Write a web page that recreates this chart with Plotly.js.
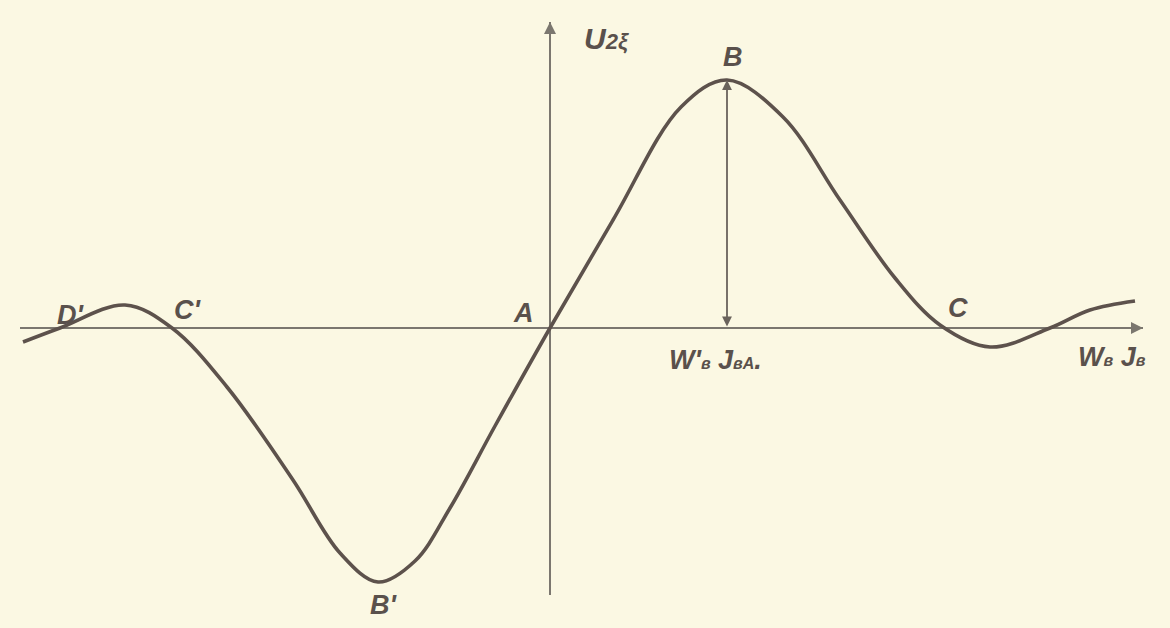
<!DOCTYPE html>
<html>
<head>
<meta charset="utf-8">
<script src="https://cdn.plot.ly/plotly-3.0.1.min.js"></script>
<style>
  html, body { margin: 0; padding: 0; background: #fbf8e3; }
  #chart { width: 1170px; height: 628px; }
</style>
</head>
<body>
<div id="chart"></div>
<script>
// Characteristic curve U2 vs control ampere-turns (W_B * J_B)
const curveX = [-5.27, -4.90, -4.25, -3.78, -3.23, -2.57, -2.10, -1.72, -1.35, -1.00,
                -0.55, 0.00, 0.63, 1.31, 1.77, 2.33, 2.90, 3.45, 3.90, 4.40, 5.00, 5.40, 5.85];
const curveY = [-0.14, 0.00, 0.23, 0.00, -0.59, -1.52, -2.25, -2.54, -2.33, -1.80,
                -0.98, 0.00, 1.08, 2.21, 2.48, 2.11, 1.28, 0.50, 0.03, -0.19, 0.00, 0.18, 0.27];

// Axis extents
const hAxisX = [-5.30, 5.93];
const vAxisY = [-2.67, 3.06];

// Peak B and its ampere-turns value on the axis
const peakX = 1.77;
const peakY = 2.48;

// Point labels
const labelText = ["D'", "C'", "A", "B", "B'", "C"];
const labelX = [-4.80, -3.63, -0.27, 1.83, -1.67, 4.08];
const labelY = [0.13, 0.18, 0.15, 2.71, -2.77, 0.20];

// Axis titles
const axisText = [
  "U<span style='font-size:22px'>2ξ</span>",
  "W'<span style='font-size:16px'>в</span> J<span style='font-size:16px'>вA</span>.",
  "W<span style='font-size:16px'>в</span> J<span style='font-size:16px'>в</span>"
];
const axisTextX = [0.56, 1.65, 5.62];
const axisTextY = [2.90, -0.32, -0.29];

const ink = '#5d524c';
const axisInk = '#7b776f';
const font = { family: 'Liberation Sans, Arial, sans-serif', size: 27, color: '#5a514c' };

const annotations = [];
labelText.forEach((t, i) => {
  annotations.push({ x: labelX[i], y: labelY[i], xref: 'x', yref: 'y', text: '<b><i>' + t + '</i></b>',
    showarrow: false, font: font });
});
axisText.forEach((t, i) => {
  annotations.push({ x: axisTextX[i], y: axisTextY[i], xref: 'x', yref: 'y', text: '<b><i>' + t + '</i></b>',
    showarrow: false, font: i === 0 ? Object.assign({}, font, { size: 30 }) : font });
});
// Arrow tips of the axes
annotations.push({ x: hAxisX[1], y: 0, ax: hAxisX[1] - 0.3, ay: 0, xref: 'x', yref: 'y', axref: 'x', ayref: 'y',
  text: '', showarrow: true, arrowhead: 2, arrowsize: 1.2, arrowwidth: 2, arrowcolor: axisInk });
annotations.push({ x: 0, y: vAxisY[1], ax: 0, ay: vAxisY[1] - 0.3, xref: 'x', yref: 'y', axref: 'x', ayref: 'y',
  text: '', showarrow: true, arrowhead: 2, arrowsize: 1.2, arrowwidth: 2, arrowcolor: axisInk });
// Double arrow from the axis up to peak B
annotations.push({ x: peakX, y: peakY, ax: peakX, ay: 0, xref: 'x', yref: 'y', axref: 'x', ayref: 'y',
  text: '', showarrow: true, arrowhead: 2, startarrowhead: 2, arrowside: 'end+start', arrowsize: 1.1,
  arrowwidth: 1.8, arrowcolor: '#6a635c' });

const shapes = [
  { type: 'line', xref: 'x', yref: 'y', x0: hAxisX[0], x1: hAxisX[1], y0: 0, y1: 0,
    line: { color: axisInk, width: 2.2 }, layer: 'below' },
  { type: 'line', xref: 'x', yref: 'y', x0: 0, x1: 0, y0: vAxisY[0], y1: vAxisY[1],
    line: { color: axisInk, width: 2 }, layer: 'below' }
];

const trace = {
  x: curveX, y: curveY, type: 'scatter', mode: 'lines',
  line: { color: ink, width: 3.6, shape: 'spline', smoothing: 1 },
  hoverinfo: 'skip'
};

const layout = {
  width: 1170, height: 628,
  margin: { l: 0, r: 0, t: 0, b: 0 },
  paper_bgcolor: '#fbf8e3', plot_bgcolor: '#fbf8e3',
  showlegend: false,
  xaxis: { range: [-5.50, 6.20], visible: false, fixedrange: true },
  yaxis: { range: [-3.00, 3.28], visible: false, fixedrange: true },
  shapes: shapes,
  annotations: annotations
};

Plotly.newPlot('chart', [trace], layout, { staticPlot: true });
</script>
</body>
</html>
